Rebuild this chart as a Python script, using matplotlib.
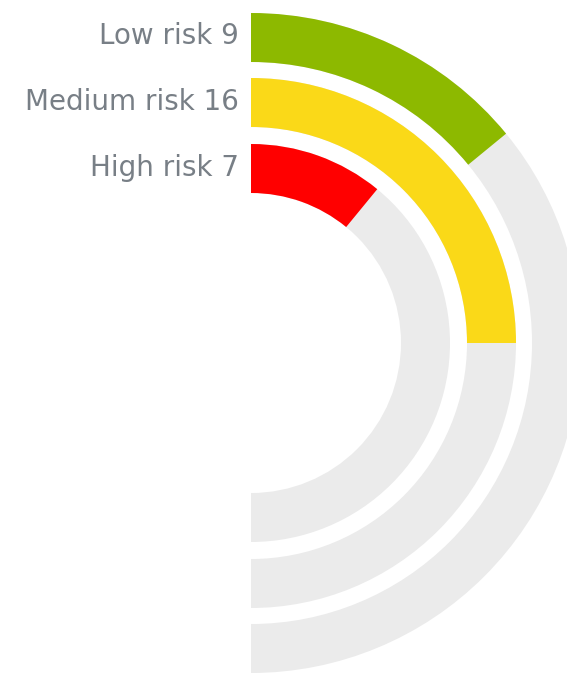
import matplotlib.pyplot as plt
from matplotlib.patches import Wedge

labels = ["Low risk", "Medium risk", "High risk"]
values = [9, 16, 7]
colors = ["#8DB900", "#FAD918", "#FF0000"]
track_color = "#EBEBEB"

# ring radii in pixels, outer to inner
outer_radii = [330, 265, 199]
ring_width = 49

fig = plt.figure(figsize=(5.67, 6.73), dpi=100)
ax = fig.add_axes([0, 0, 1, 1])
ax.set_xlim(0, 567)
ax.set_ylim(0, 673)
ax.set_aspect("equal")
ax.axis("off")

cx, cy = 251, 330
total = sum(values)

for label, value, color, r in zip(labels, values, colors, outer_radii):
    # background track over the right half
    ax.add_patch(Wedge((cx, cy), r, -90, 90, width=ring_width,
                       facecolor=track_color, edgecolor="none"))
    sweep = 180 * value / total
    ax.add_patch(Wedge((cx, cy), r, 90 - sweep, 90, width=ring_width,
                       facecolor=color, edgecolor="none"))
    ax.text(cx - 12, cy + r - ring_width / 2 - 7, f"{label} {value}",
            ha="right", va="baseline", fontsize=20, color="#787F86",
            family="DejaVu Sans")

fig.savefig("out.png", dpi=100)
